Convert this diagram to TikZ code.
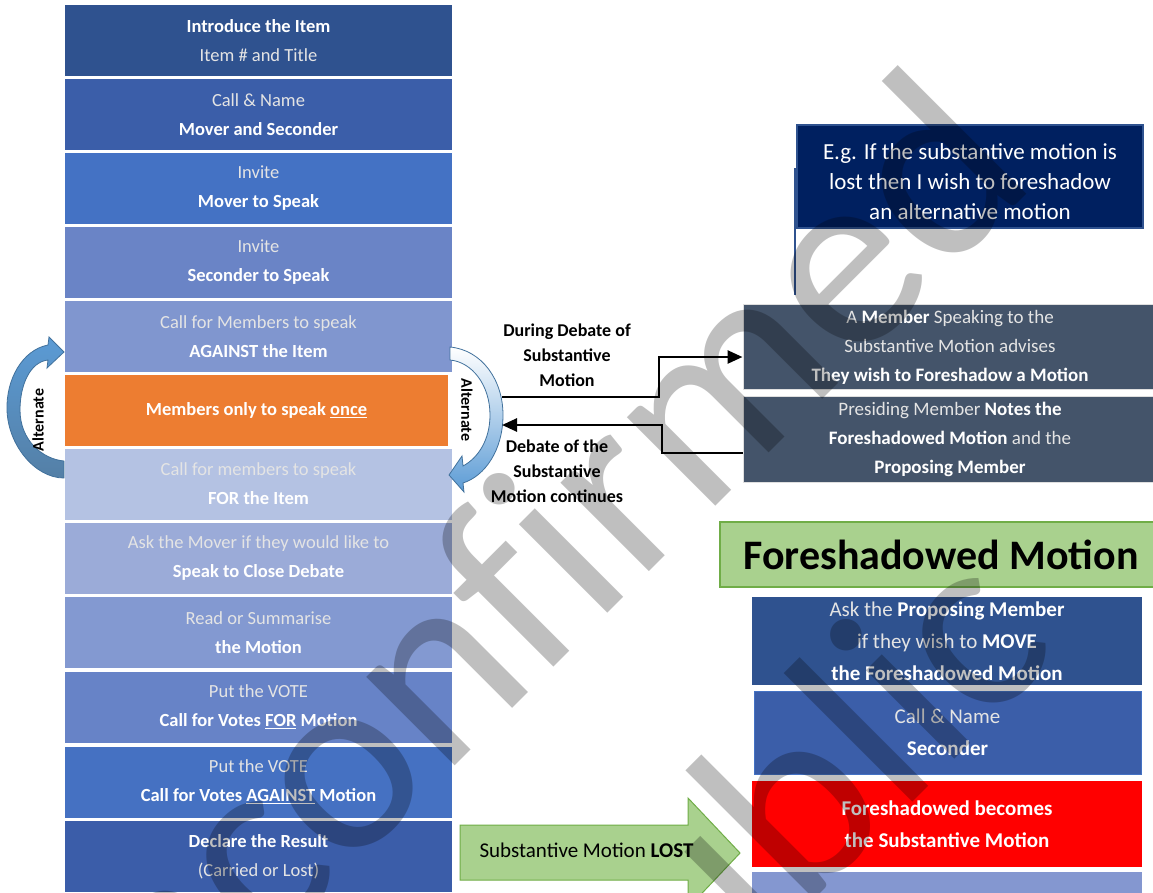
\documentclass[tikz,border=0pt]{standalone}
\usepackage{fontspec}
\setmainfont{Carlito}
\newfontfamily\wmfont{Carlito}[Ligatures=CommonOff]
\usetikzlibrary{arrows.meta}
\definecolor{c1}{HTML}{2F528F}
\definecolor{c2}{HTML}{3B5EA9}
\definecolor{c3}{HTML}{4472C4}
\definecolor{c4}{HTML}{6A84C6}
\definecolor{c5}{HTML}{8096CF}
\definecolor{c6}{HTML}{ED7D31}
\definecolor{c7}{HTML}{B4C2E3}
\definecolor{c8}{HTML}{9BABD8}
\definecolor{c9}{HTML}{8399D1}
\definecolor{c10}{HTML}{6783C7}
\definecolor{c11}{HTML}{4571C2}
\definecolor{c12}{HTML}{3B5DA9}
\definecolor{navy}{HTML}{002060}
\definecolor{slate}{HTML}{44546A}
\definecolor{lgreen}{HTML}{A9D18E}
\definecolor{dgreen}{HTML}{70AD47}
\definecolor{lt}{HTML}{E4E4E4}
\definecolor{arrblue}{HTML}{5B9BD5}
\definecolor{arrdark}{HTML}{41719C}
\definecolor{lastbox}{HTML}{8497D0}
\begin{document}
\begin{tikzpicture}[x=1pt,y=-1pt,
  lbox/.style={minimum width=387pt, minimum height=71pt, inner sep=0pt, align=center, text=white, font=\fontsize{18.5}{29}\selectfont},
  rbox/.style={inner sep=0pt, align=center, text=white},
  midlabel/.style={align=center, inner sep=0pt, font=\bfseries\fontsize{18}{25}\selectfont},
  altlabel/.style={inner sep=0pt, font=\bfseries\fontsize{16}{16}\selectfont},
  conn/.style={line width=2.6pt, -{Triangle[length=15pt,width=13pt]}},
  wm/.style={rotate=45, inner sep=0pt, font=\wmfont\fontsize{262}{262}\selectfont, text=black, text opacity=0.25}
]
\useasboundingbox (0,0) rectangle (1153,892);
\clip (0,0) rectangle (1153,892);
\fill[white] (0,0) rectangle (1153,892);

% left column
\node[lbox, fill=c1]  (n1)  at (258.5,40.5) {\textbf{Introduce the Item}\\{\color{lt}Item \# and Title}};
\node[lbox, fill=c2]  (n2)  at (258.5,114.5) {{\color{lt}Call \& Name}\\\textbf{Mover and Seconder}};
\node[lbox, fill=c3]  (n3)  at (258.5,188.5) {{\color{lt}Invite}\\\textbf{Mover to Speak}};
\node[lbox, fill=c4]  (n4)  at (258.5,262.5) {{\color{lt}Invite}\\\textbf{Seconder to Speak}};
\node[lbox, fill=c5]  (n5)  at (258.5,336.5) {{\color{lt}Call for Members to speak}\\\textbf{AGAINST the Item}};
\node[lbox, fill=c6, minimum width=383pt] (n6) at (256.5,410.5) {\textbf{Members only to speak \underline{once}}};
\node[lbox, fill=c7]  (n7)  at (258.5,484) {{\color{lt}Call for members to speak}\\\textbf{FOR the Item}};
\node[lbox, fill=c8]  (n8)  at (258.5,558) {{\color{lt}Ask the Mover if they would like to}\\\textbf{Speak to Close Debate}};
\node[lbox, fill=c9]  (n9)  at (258.5,632.5) {{\color{lt}Read or Summarise}\\\textbf{the Motion}};
\node[lbox, fill=c10] (n10) at (258.5,707) {{\color{lt}Put the VOTE}\\\textbf{Call for Votes \underline{FOR} Motion}};
\node[lbox, fill=c11] (n11) at (258.5,782) {{\color{lt}Put the VOTE}\\\textbf{Call for Votes \underline{AGAINST} Motion}};
\node[lbox, fill=c12] (n12) at (258.5,856.5) {\textbf{Declare the Result}\\{\color{lt}(Carried or Lost)}};

% left curved arrow
\path[draw=arrdark, line width=0.8pt, top color=arrblue, bottom color=arrdark!90]
  (48,345) .. controls (22,350) and (6,380) .. (7,410) .. controls (8,445) and (35,478) .. (64,478)
  -- (64,461) .. controls (42,459) and (20,440) .. (20,410) .. controls (20,385) and (30,362) .. (48,360)
  -- (47,368) -- (64,352) -- (49,337) -- cycle;
\node[altlabel, rotate=90] (alt1) at (38,420) {Alternate};

% right curved arrow
\path[draw=arrdark, line width=0.8pt, top color=white, bottom color=arrblue]
  (450,347) .. controls (482,350) and (503,380) .. (503,415) .. controls (503,450) and (485,476) .. (463,483)
  -- (464,492) -- (449,475) -- (462,456) -- (463,466)
  .. controls (478,458) and (490,440) .. (490,415) .. controls (490,385) and (472,362) .. (450,360) -- cycle;
\node[altlabel, rotate=-90] (alt2) at (467,410) {Alternate};

% right side
\draw[c1, line width=1.5pt] (795,168) -- (795,295);
\node[rbox, fill=navy, draw=c1, line width=1.5pt, minimum width=346pt, minimum height=103pt] (eg) at (970,176.5) {};
\node[rbox, font=\fontsize{23}{30}\selectfont] (egtext) at (970,181.5)
  {E.g. If the substantive motion is\\lost then I wish to foreshadow\\an alternative motion};

\node[rbox, fill=slate, draw=gray!25, line width=1pt, minimum width=414pt, minimum height=85pt,
      font=\fontsize{19}{29}\selectfont] (member) at (950,347)
  {{\color{lt}A} \textbf{Member} {\color{lt}Speaking to the}\\{\color{lt}Substantive Motion advises}\\\textbf{They wish to Foreshadow a Motion}};
\node[rbox, fill=slate, draw=gray!25, line width=1pt, minimum width=414pt, minimum height=86pt,
      font=\fontsize{19}{29}\selectfont] (presiding) at (950,439.5)
  {{\color{lt}Presiding Member} \textbf{Notes the}\\\textbf{Foreshadowed Motion} {\color{lt}and the}\\\textbf{Proposing Member}};

\node[inner sep=0pt, fill=lgreen, draw=dgreen, line width=1.5pt, minimum width=442pt, minimum height=65pt,
      font=\bfseries\fontsize{42}{42}\selectfont] (fm) at (941,554.5) {Foreshadowed Motion};

\node[rbox, fill=c1, minimum width=390pt, minimum height=88pt, font=\fontsize{21}{32}\selectfont] (ask) at (947,641)
  {{\color{lt}Ask the} \textbf{Proposing Member}\\{\color{lt}if they wish to} \textbf{MOVE}\\\textbf{the Foreshadowed Motion}};
\node[rbox, fill=c2, draw=c3, line width=1pt, minimum width=387pt, minimum height=83pt, font=\fontsize{21}{32}\selectfont] (sec) at (947.5,732.5)
  {{\color{lt}Call \& Name}\\\textbf{Seconder}};
\node[rbox, fill=red, minimum width=390pt, minimum height=86pt, font=\bfseries\fontsize{21}{32}\selectfont] (becomes) at (947,824)
  {Foreshadowed becomes\\the Substantive Motion};
\node[rbox, fill=lastbox, minimum width=390pt, minimum height=48pt] (last) at (947,896) {};

% lost arrow
\path[fill=lgreen, draw=dgreen, line width=1pt]
  (460,825) -- (688,825) -- (688,798) -- (740,853) -- (688,908) -- (688,880) -- (460,880) -- cycle;
\node[inner sep=0pt, font=\fontsize{21}{21}\selectfont] (lost) at (586.5,850) {Substantive Motion \textbf{LOST}};

% connectors
\coordinate (s1) at (502,397);
\coordinate (s2) at (502,425);
\draw[conn] (s1) -- (659,397) |- ([yshift=-10pt]member.west);
\draw[conn] ([yshift=-13.5pt]presiding.west) -- (662,453) |- (s2);
\node[midlabel] (l1) at (567,355) {During Debate of\\Substantive\\Motion};
\node[midlabel] (l2) at (557,471) {Debate of the\\Substantive\\Motion continues};

% watermark
\node[wm] (wm1) at (482,612) {Unconfirmed};
\node[wm] (wm2) at (772,815) {Public};
\end{tikzpicture}
\end{document}
